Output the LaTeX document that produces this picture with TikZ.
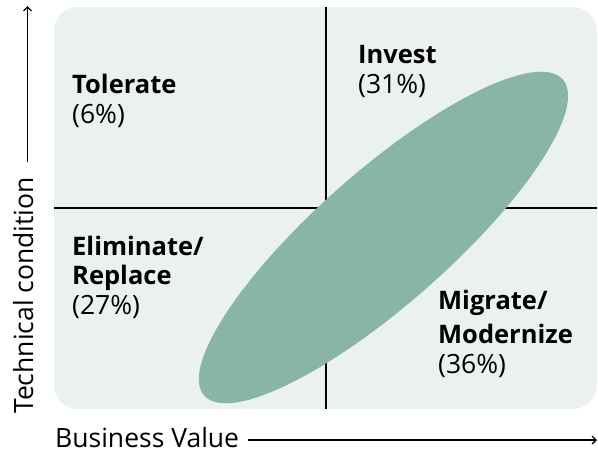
\documentclass[tikz,border=0pt]{standalone}
\usepackage{fontspec}
\setmainfont{Open Sans}
\usetikzlibrary{arrows.meta}
\definecolor{panelc}{HTML}{EBF1EE}
\definecolor{ellc}{HTML}{88B5A4}
\tikzset{
  lbl/.style={anchor=base west, inner sep=0pt, font=\fontsize{26.5}{30}\selectfont},
  lblb/.style={lbl, font=\fontsize{25.5}{30}\selectfont\bfseries},
  divider/.style={line width=2pt, black},
  axisline/.style={line width=1.3pt, black, -{Straight Barb[length=4pt,width=8pt,line width=1.3pt]}},
}
\begin{document}
\begin{tikzpicture}[x=1pt,y=-1pt]
\useasboundingbox (0,0) rectangle (598,453);
% panel
\fill[panelc, rounded corners=24pt] (54,7) rectangle (597,409);
% dividers
\coordinate (vt) at (326,7);
\coordinate (vb) at (326,409);
\coordinate (hl) at (54,208);
\coordinate (hr) at (597,208);
\draw[divider] (vt) -- (vb);
\draw[divider] (hl) -- (hr);
% ellipse
\coordinate (ec) at (383.5,237.5);
\fill[ellc, rotate around={41.4:(ec)}] (ec) ellipse [x radius=239, y radius=66.5];
% labels
\node[lblb] (tol1) at (72,93) {Tolerate};
\node[lbl]  (tol2) at (72,123) {(6\%)};
\node[lblb] (inv1) at (358,63) {Invest};
\node[lbl]  (inv2) at (358,93) {(31\%)};
\node[lblb] (eli1) at (72,255) {Eliminate/};
\node[lblb] (eli2) at (72,284) {Replace};
\node[lbl]  (eli3) at (72,314) {(27\%)};
\node[lblb] (mig1) at (438,309) {Migrate/};
\node[lblb] (mig2) at (438,343) {Modernize};
\node[lbl]  (mig3) at (438,373) {(36\%)};
% axes
\node[lbl, rotate=90] (tc) at (33,414) {Technical condition};
\coordinate (ta) at (27.5,162);
\coordinate (tb) at (27.5,6);
\draw[axisline] (ta) -- (tb);
\node[lbl] (bv) at (55,447) {Business Value};
\coordinate (ba) at (248,440);
\coordinate (bb) at (597,440);
\draw[axisline] (ba) -- (bb);
\end{tikzpicture}
\end{document}
